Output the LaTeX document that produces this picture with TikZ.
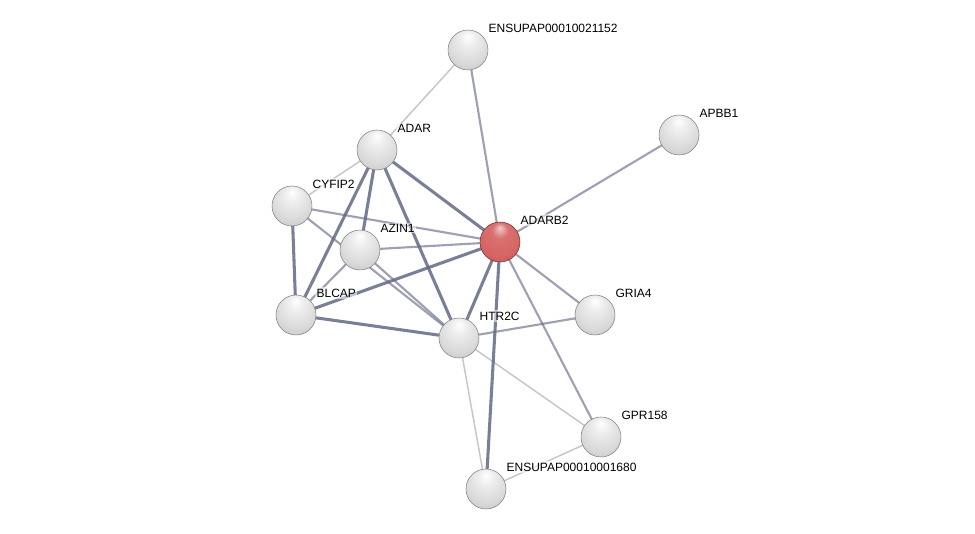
\documentclass[tikz,border=0pt]{standalone}
\usepackage{fontspec}
\setmainfont{Liberation Sans}
\usetikzlibrary{shadings,backgrounds}

\definecolor{edgecol}{RGB}{98,104,132}
\definecolor{querycol}{RGB}{214,100,100}
\pgfdeclareradialshading{greysphere}{\pgfpoint{0bp}{18bp}}{color(0bp)=(white); color(10bp)=(white!93!black); color(26bp)=(white!85!black); color(36bp)=(white!78!black); color(43bp)=(white!64!black); color(50bp)=(white!42!black)}
\pgfdeclareradialshading{redsphere}{\pgfpoint{0bp}{18bp}}{color(0bp)=(white!65!querycol); color(10bp)=(querycol!92!white); color(26bp)=(querycol); color(36bp)=(querycol!92!black); color(43bp)=(querycol!75!black); color(50bp)=(querycol!50!black)}
\tikzset{
  protein/.style={circle, minimum size=30pt, inner sep=0pt, shading=greysphere, draw=white!50!black, line width=0.4pt},
  query/.style={protein, shading=redsphere, draw=querycol!50!black},
  plabel/.style={anchor=west, inner sep=1pt, font=\fontsize{9}{10}\selectfont, fill=white, fill opacity=0.55, text opacity=1},
  strong/.style={draw=edgecol, line width=2.3pt, draw opacity=0.85},
  medium/.style={draw=edgecol, line width=1.6pt, draw opacity=0.62},
  weak/.style={draw=edgecol, line width=1.1pt, draw opacity=0.38}
}

\begin{document}
\begin{tikzpicture}[x=0.75pt,y=0.75pt,yscale=-1,xscale=1]
\useasboundingbox (0,0) rectangle (975,534);

%Proteins
\node [protein] (ens21152) at (468,50) {};
\node [protein] (apbb1) at (679,135) {};
\node [protein] (adar) at (377,150) {};
\node [protein] (cyfip2) at (292,206) {};
\node [protein] (azin1) at (360,250) {};
\node [query] (adarb2) at (500,242) {};
\node [protein] (blcap) at (296,315) {};
\node [protein] (htr2c) at (459,338) {};
\node [protein] (gria4) at (595,315) {};
\node [protein] (gpr158) at (601,437) {};
\node [protein] (ens1680) at (486,489) {};

% Text Node
\node [plabel] at ([shift={(19,-22)}]ens21152.center) {ENSUPAP00010021152};
\node [plabel] at ([shift={(19,-22)}]apbb1.center) {APBB1};
\node [plabel] at ([shift={(19,-22)}]adar.center) {ADAR};
\node [plabel] at ([shift={(19,-22)}]cyfip2.center) {CYFIP2};
\node [plabel] at ([shift={(19,-22)}]azin1.center) {AZIN1};
\node [plabel] at ([shift={(19,-22)}]adarb2.center) {ADARB2};
\node [plabel] at ([shift={(19,-22)}]blcap.center) {BLCAP};
\node [plabel] at ([shift={(19,-22)}]htr2c.center) {HTR2C};
\node [plabel] at ([shift={(19,-22)}]gria4.center) {GRIA4};
\node [plabel] at ([shift={(19,-22)}]gpr158.center) {GPR158};
\node [plabel] at ([shift={(19,-22)}]ens1680.center) {ENSUPAP00010001680};

%Interactions
\begin{pgfonlayer}{background}
\draw [weak] (ens21152.center) -- (adar.center);
\draw [medium] (ens21152.center) -- (adarb2.center);
\draw [medium] (apbb1.center) -- (adarb2.center);
\draw [weak] (adar.center) -- (cyfip2.center);
\draw [strong] (adar.center) -- (azin1.center);
\draw [strong] (adar.center) -- (blcap.center);
\draw [strong] (adar.center) -- (htr2c.center);
\draw [strong] (adar.center) -- (adarb2.center);
\draw [medium] (cyfip2.center) -- (adarb2.center);
\draw [strong] (cyfip2.center) -- (blcap.center);
\draw [medium] (cyfip2.center) -- (htr2c.center);
\draw [medium] (azin1.center) -- (adarb2.center);
\draw [medium] (azin1.center) -- (blcap.center);
\draw [medium] (azin1.center) -- (htr2c.center);
\draw [strong] (blcap.center) -- (adarb2.center);
\draw [strong] (blcap.center) -- (htr2c.center);
\draw [strong] (adarb2.center) -- (htr2c.center);
\draw [medium] (adarb2.center) -- (gria4.center);
\draw [medium] (adarb2.center) -- (gpr158.center);
\draw [strong] (adarb2.center) -- (ens1680.center);
\draw [medium] (htr2c.center) -- (gria4.center);
\draw [weak] (htr2c.center) -- (gpr158.center);
\draw [weak] (htr2c.center) -- (ens1680.center);
\draw [weak] (gpr158.center) -- (ens1680.center);
\end{pgfonlayer}

\end{tikzpicture}
\end{document}
